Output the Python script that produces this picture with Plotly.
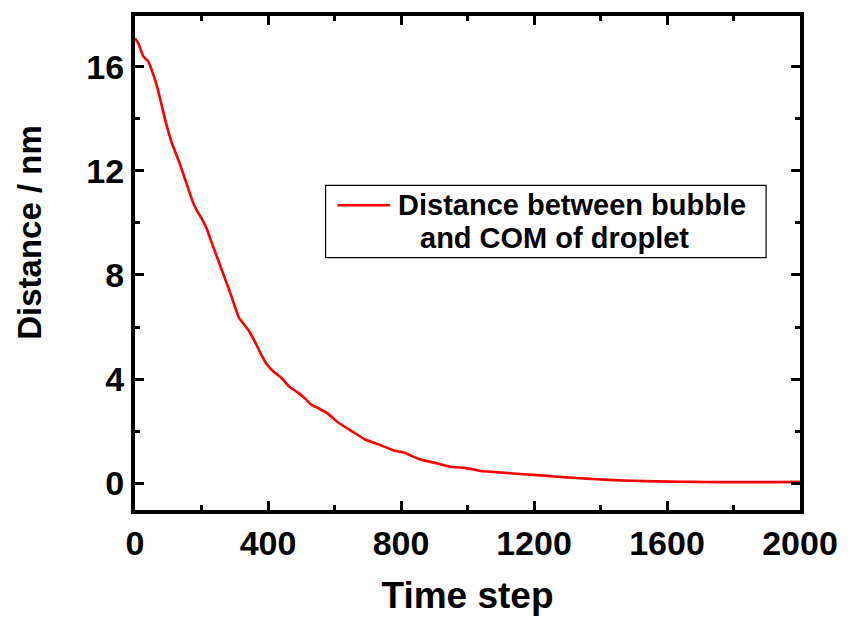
import plotly.graph_objects as go

# Distance between the bubble and the droplet centre of mass over time
time_step = [0, 10, 25, 40, 55, 65, 75, 90, 110, 134, 154, 174, 185, 199, 215, 229,
             255, 284, 300, 313, 328, 343, 360, 378, 395, 413, 440, 463, 493, 512,
             530, 552, 577, 600, 612, 652, 692, 731, 776, 811, 840, 861, 900, 950,
             995, 1040, 1080, 1129, 1209, 1269, 1328, 1388, 1458, 1530, 1607, 1680,
             1756, 1850, 1930, 2000]
distance_nm = [17.1, 16.9, 16.4, 16.2, 15.7, 15.3, 14.8, 14.0, 13.1, 12.3, 11.55, 10.8,
               10.5, 10.2, 9.8, 9.3, 8.4, 7.4, 6.8, 6.35, 6.1, 5.85, 5.45, 4.98, 4.6,
               4.33, 4.05, 3.72, 3.45, 3.25, 3.02, 2.88, 2.7, 2.45, 2.32, 2.0, 1.68,
               1.5, 1.27, 1.17, 1.0, 0.9, 0.79, 0.63, 0.58, 0.47, 0.43, 0.38, 0.31,
               0.25, 0.2, 0.15, 0.11, 0.08, 0.06, 0.05, 0.04, 0.04, 0.04, 0.05]

x_ticks = [0, 400, 800, 1200, 1600, 2000]
y_ticks = [0, 4, 8, 12, 16]
legend_lines = ["Distance between bubble", "and COM of droplet"]

FONT = "Arial, 'Liberation Sans', sans-serif"
RED = "#FF0000"

fig = go.Figure()
fig.add_trace(go.Scatter(
    x=time_step, y=distance_nm, mode="lines",
    line=dict(color=RED, width=2.6, shape="spline", smoothing=0.5),
    name=" ".join(legend_lines), showlegend=False,
))

axis_common = dict(
    showline=True, linecolor="black", linewidth=4, mirror="allticks",
    ticks="inside", ticklen=9, tickwidth=3, tickcolor="black",
    showgrid=False, zeroline=False,
    tickfont=dict(family=FONT, size=34, color="black", weight="bold"),
)

fig.update_xaxes(
    range=[0, 2000], tickvals=x_ticks,
    minor=dict(dtick=200, ticks="inside", ticklen=5, tickwidth=3, tickcolor="black", tick0=0),
    title=dict(text="Time step", font=dict(family=FONT, size=37, color="black", weight="bold"),
               standoff=22),
    **axis_common,
)
fig.update_yaxes(
    range=[-1.03, 17.95], tickvals=y_ticks,
    minor=dict(dtick=2, ticks="inside", ticklen=5, tickwidth=3, tickcolor="black", tick0=0),
    **axis_common,
)

# Y axis title, placed as a rotated annotation
fig.add_annotation(text="Distance / nm", xref="paper", yref="paper",
                   x=-0.158, y=0.563, xanchor="center", yanchor="middle",
                   textangle=-90, showarrow=False,
                   font=dict(family=FONT, size=33, color="black", weight="bold"))

# Legend drawn as a framed box with a line sample and two text lines
fig.add_shape(type="rect", xref="paper", yref="paper",
              x0=0.2866, x1=0.949, y0=0.511, y1=0.657,
              line=dict(color="black", width=1.2), fillcolor="white", layer="above")
fig.add_shape(type="line", xref="paper", yref="paper",
              x0=0.3045, x1=0.3836, y0=0.617, y1=0.617,
              line=dict(color=RED, width=2.6), layer="above")
fig.add_annotation(text=legend_lines[0], xref="paper", yref="paper",
                   x=0.3925, y=0.617, xanchor="left", yanchor="middle", showarrow=False,
                   font=dict(family=FONT, size=29, color="black", weight="bold"))
fig.add_annotation(text=legend_lines[1], xref="paper", yref="paper",
                   x=0.425, y=0.551, xanchor="left", yanchor="middle", showarrow=False,
                   font=dict(family=FONT, size=29, color="black", weight="bold"))

fig.update_layout(
    width=850, height=622,
    margin=dict(l=135, r=45, t=12, b=111),
    plot_bgcolor="white", paper_bgcolor="white",
)

fig.write_html("out.html")
